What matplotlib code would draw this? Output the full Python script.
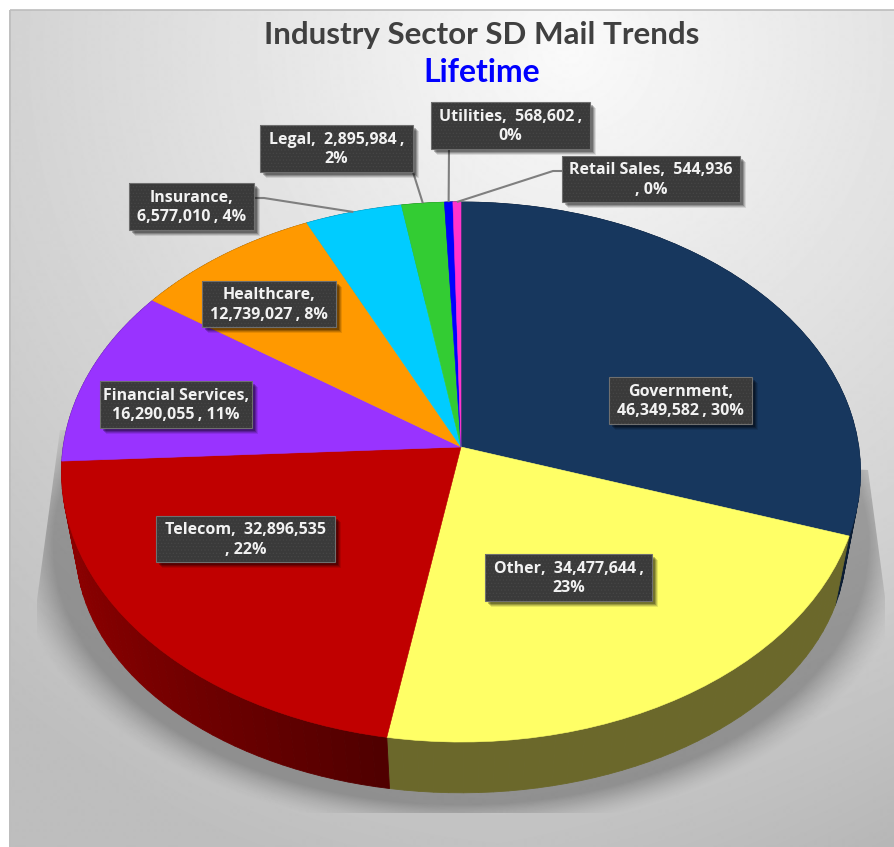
#!/usr/bin/env python3
import numpy as np
import matplotlib
matplotlib.use('Agg')
import matplotlib.pyplot as plt
from matplotlib.colors import to_rgb
from matplotlib.patches import Rectangle, Polygon
from matplotlib.transforms import Transform

# Chart values
sectors = ['Government', 'Other', 'Telecom', 'Financial Services', 'Healthcare',
           'Insurance', 'Legal', 'Utilities', 'Retail Sales']
mail_counts = [46349582, 34477644, 32896535, 16290055, 12739027,
               6577010, 2895984, 568602, 544936]
percents = [30, 23, 22, 11, 8, 4, 2, 0, 0]
slice_colors = ['#17375e', '#ffff66', '#c00000', '#9933ff', '#ff9900',
                '#00ccff', '#33cc33', '#0000ff', '#ff33cc']
side_left = ['#0c1d33', '#6b682b', '#900000', '#4d1a80', '#804d00',
             '#006680', '#1a661a', '#000080', '#801a66']
side_right = ['#0c1d33', '#6b682b', '#500000', '#4d1a80', '#804d00',
              '#006680', '#1a661a', '#000080', '#801a66']

# Where the reference breaks each label: 0 after name, 1 after value, 2 before ", pct"
label_breaks = [0, 1, 2, 0, 0, 0, 1, 1, 2]
label_boxes = [(609, 377, 752, 424), (485, 554, 652, 601), (156, 516, 335, 562),
               (100, 381, 252, 428), (202, 281, 336, 327), (129, 183, 254, 230),
               (260, 125, 413, 172), (431, 102, 590, 149), (562, 156, 740, 202)]
# leader start points, only the small slices have one
leader_starts = {5: [(254, 198), (264, 198)], 6: [(413, 172)],
                 7: [(449, 149)], 8: [(562, 171), (553, 171)]}


class TiltTransform(Transform):
    # unit circle -> perspective ellipse in pixel coordinates
    input_dims = 2
    output_dims = 2
    is_separable = False

    def __init__(self, cx, cy, a, b, k):
        super().__init__()
        self.cx, self.cy, self.a, self.b, self.k = cx, cy, a, b, k

    def transform_non_affine(self, values):
        values = np.asarray(values)
        d = 1 + self.k * values[:, 1]
        return np.column_stack([self.cx + self.a * values[:, 0] / d,
                                self.cy - self.b * values[:, 1] / d])


def unit(theta):
    t = np.radians(theta)
    return np.column_stack([np.cos(t), np.sin(t)])


def make_label(name, count, pct, brk):
    val = f'{count:,}'
    if brk == 0:
        return f'{name},\n{val}\u2009, {pct}%'
    if brk == 1:
        return f'{name},  {val}\u2009,\n{pct}%'
    return f'{name},  {val}\n, {pct}%'


W, H = 894, 847
fig = plt.figure(figsize=(W / 100, H / 100), dpi=100, facecolor='white')
ax = fig.add_axes([0, 0, 1, 1])

wedges, _ = ax.pie(mail_counts, colors=slice_colors, startangle=90, counterclock=False,
                   wedgeprops={'linewidth': 0})
ax.set_aspect('auto')

top_map = TiltTransform(461, 447, 397.8, 267.7, 0.0926)
bottom_map = TiltTransform(461, 525, 383.4, 243.0, 0.0926)

# Background gradient
xx, yy = np.meshgrid(np.arange(9, W + 1), np.arange(10, H + 1))
dist = np.hypot(xx - 570, yy - 50)
shade = np.clip(250 - dist * 0.07, 190, 250) / 255
shade = shade - 0.03 * np.clip((xx - 500) / 400, 0, 1) * np.clip((yy - 500) / 350, 0, 1)
ax.imshow(shade, extent=(9, W, H, 10), cmap='gray', vmin=0, vmax=1, aspect='auto',
          zorder=0, interpolation='bilinear')

# Soft shadow under the pie
r = np.hypot((xx - 461) / 400, (yy - 545) / 255)
alpha = np.clip((1.13 - r) / 0.11, 0, 1) ** 1.5 * 0.27
shadow_rgba = np.zeros(alpha.shape + (4,))
shadow_rgba[..., 3] = alpha
shadow = ax.imshow(shadow_rgba, extent=(9, W, H, 10), aspect='auto', zorder=1,
                   interpolation='bilinear')
clip_poly = Polygon([(60, 430), (37, 600), (37, 813), (885, 813), (885, 597), (868, 470)],
                    closed=True, transform=ax.transData, facecolor='none', edgecolor='none')
ax.add_patch(clip_poly)
shadow.set_clip_path(clip_poly)

# Side wall of the pie, in thin strips so the red one can carry its gradient
for i, w in enumerate(wedges):
    angles = np.linspace(w.theta1, w.theta2, 41)
    upper = top_map.transform_non_affine(unit(angles))
    lower = bottom_map.transform_non_affine(unit(angles))
    c_a, c_b = np.array(to_rgb(side_left[i])), np.array(to_rgb(side_right[i]))
    for j in range(40):
        col = c_a + (c_b - c_a) * (j / 39) ** 1.5
        ax.fill([upper[j, 0], upper[j + 1, 0], lower[j + 1, 0], lower[j, 0]],
                [upper[j, 1], upper[j + 1, 1], lower[j + 1, 1], lower[j, 1]],
                color=col, lw=0.6, zorder=2)

# Top face
for w in wedges:
    w.set_transform(top_map + ax.transData)
    w.set_zorder(3)
    w.set_edgecolor(w.get_facecolor())
    w.set_linewidth(0.4)

# Leader lines
for i, pts in leader_starts.items():
    mid = (wedges[i].theta1 + wedges[i].theta2) / 2
    end = top_map.transform_non_affine(unit(np.array([mid])))[0]
    xs = [p[0] for p in pts] + [end[0]]
    ys = [p[1] for p in pts] + [end[1]]
    ax.plot(xs, ys, color='#7f7f7f', lw=1.5, zorder=4, solid_capstyle='butt')

# Data labels
plt.rcParams['hatch.linewidth'] = 0.5
for name, count, pct, brk, (x0, y0, x1, y1) in zip(sectors, mail_counts, percents,
                                                   label_breaks, label_boxes):
    for off, a in [(6, 0.10), (5, 0.15), (4, 0.2), (3, 0.25)]:
        ax.add_patch(Rectangle((x0 + off, y0 + off), x1 - x0, y1 - y0, facecolor='black',
                               edgecolor='none', alpha=a, zorder=4.5))
    ax.add_patch(Rectangle((x0, y0), x1 - x0, y1 - y0, facecolor='#3a3a3a',
                           edgecolor='#464646', hatch='.....', lw=0, zorder=5))
    ax.add_patch(Rectangle((x0, y0), x1 - x0, y1 - y0, facecolor='none',
                           edgecolor='#6f6f6f', lw=0.8, zorder=5.2))
    ax.text((x0 + x1) / 2, (y0 + y1) / 2 + 1, make_label(name, count, pct, brk),
            color='#f2f2f2', family='Open Sans', weight='bold', fontsize=11.5, ha='center',
            va='center', linespacing=1.33, zorder=6)

# Titles
ax.text(482, 35, 'Industry Sector SD Mail Trends', color='#404040', family='Lato',
        weight='bold', fontsize=22.6, ha='center', va='center', zorder=6)
ax.text(482, 72, 'Lifetime', color='#0000ff', family='Lato', weight='bold', fontsize=23,
        ha='center', va='center', zorder=6)

# Frame of the chart area
ax.add_patch(Rectangle((9.5, 10.5), W, H, facecolor='none', edgecolor='#bdbdbd', lw=1.2, zorder=7))

ax.set_xlim(0, W)
ax.set_ylim(H, 0)
ax.axis('off')
fig.savefig('out.png', dpi=100)
